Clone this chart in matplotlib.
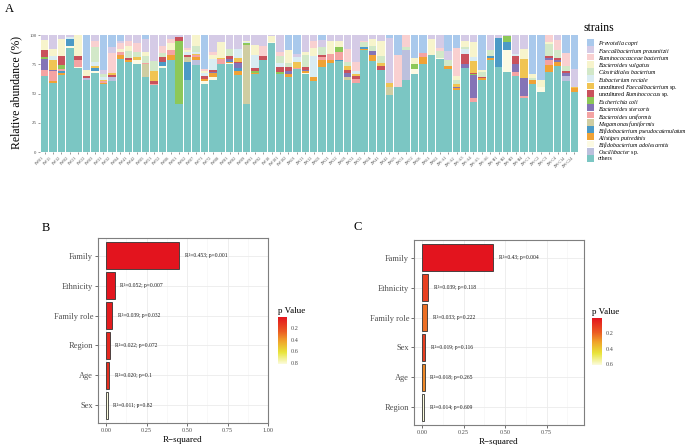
import numpy as np
import pandas as pd
import matplotlib
matplotlib.use('Agg')
import matplotlib.pyplot as plt
from matplotlib.patches import Rectangle
from matplotlib.colors import LinearSegmentedColormap, Normalize
from matplotlib.colorbar import ColorbarBase

plt.rcParams['font.family'] = ['Liberation Serif', 'DejaVu Serif']
plt.rcParams['mathtext.fontset'] = 'custom'
plt.rcParams['mathtext.rm'] = 'Liberation Serif'
plt.rcParams['mathtext.it'] = 'Liberation Serif:italic'

# ---- panel A: strain composition per sample ----
SAMPLES = ["FW01", "FW11", "FW12", "FW02", "FW21", "FW22", "FW03", "FW31", "FW32", "FW04",
           "FW41", "FW42", "FW05", "FW51", "FW52", "FW06", "FW61", "FW62", "FW07", "FW71",
           "FW72", "FW08", "FW81", "FW82", "FW09", "FW91", "FW92", "FW10", "FW101", "FW102",
           "ZW01", "ZW11", "ZW12", "ZW02", "ZW21", "ZW22", "ZW03", "ZW31", "ZW32", "ZW04",
           "ZW41", "ZW42", "ZW05", "ZW51", "ZW52", "ZW06", "ZW61", "ZW62", "ZW-A1", "ZW-A2",
           "ZW-A3", "ZW-A4", "ZW-A5", "ZW-A6", "ZW-B1", "ZW-B2", "ZW-B3", "ZW-B4", "ZW-C1", "ZW-C2",
           "ZW-C3", "ZW-C4", "ZW-C14", "ZW-C24"]

# legend order (top of stack first)
STRAINS = ["Prevotella copri", "Faecalibacterium prausnitzii", "Ruminococcaceae bacterium",
           "Bacteroides vulgatus", "Clostridiales bacterium", "Eubacterium rectale",
           "uncultured Faecalibacterium sp.", "uncultured Ruminococcus sp.", "Escherichia coli",
           "Bacteroides stercoris", "Bacteroides uniformis", "Megamonas funiformis",
           "Bifidobacterium pseudocatenulatum", "Alistipes putredinis",
           "Bifidobacterium adolescentis", "Oscillibacter sp.", "others"]
LABELS = [r"$\mathit{Prevotella\ copri}$", r"$\mathit{Faecalibacterium\ prausnitzii}$",
          r"$\mathit{Ruminococcaceae\ bacterium}$", r"$\mathit{Bacteroides\ vulgatus}$",
          r"$\mathit{Clostridiales\ bacterium}$", r"$\mathit{Eubacterium\ rectale}$",
          r"uncultured $\mathit{Faecalibacterium}$ sp.", r"uncultured $\mathit{Ruminococcus}$ sp.",
          r"$\mathit{Escherichia\ coli}$", r"$\mathit{Bacteroides\ stercoris}$",
          r"$\mathit{Bacteroides\ uniformis}$", r"$\mathit{Megamonas\ funiformis}$",
          r"$\mathit{Bifidobacterium\ pseudocatenulatum}$", r"$\mathit{Alistipes\ putredinis}$",
          r"$\mathit{Bifidobacterium\ adolescentis}$", r"$\mathit{Oscillibacter}$ sp.", "others"]
COLORS = ['#A9C9EC', '#D5CBE6', '#F9D0D0', '#F7F4CC', '#D2E8C8', '#D9ECF2', '#F0C453',
          '#C9525C', '#8DC858', '#8474B6', '#F4A3A3', '#CFCDA2', '#4C9AC6', '#F0A235',
          '#FCFAE3', '#BCC0DD', '#7BC6C3']

PC = [0, 0, 0, 0, 0, 30, 0, 30, 10, 5,
      0, 0, 3, 0, 0, 0, 0, 0, 0, 28.5,
      0, 0, 0, 0, 0, 0, 0, 0, 0, 12.5,
      16, 0, 0, 4, 0, 0, 0, 0, 0, 0,
      0, 2, 16.5, 0, 19.5, 15.5, 0, 0, 13.5, 11,
      0, 0, 29.5, 0, 0, 0, 0, 0, 33.5, 38.5,
      0, 0, 15, 28.5]
FP = [4, 12, 3.5, 1.5, 0, 0, 5, 3, 5, 2,
      4.5, 6.5, 11, 22, 9, 3.5, 1.5, 10.5, 0, 0,
      14.5, 5.5, 11.5, 11.5, 5, 8, 9.5, 1, 14.5, 0,
      3, 14, 4.5, 6, 5, 4.5, 11.5, 22.5, 4.5, 3,
      5, 39, 0, 0, 0, 0, 3, 10.5, 8, 0,
      5, 6, 0, 12.5, 2.5, 1, 16, 11.5, 0, 0,
      0, 4, 0, 15.5]
RB = [0, 0, 0, 0, 0, 0, 5, 0, 17, 5,
      5, 7.5, 0, 0, 6, 3, 0, 2, 0, 2,
      2, 0, 0, 0, 0, 0, 8.5, 0, 3, 0,
      0, 0, 6, 0, 0, 0, 11, 8, 1.5, 0,
      0, 0, 28, 10, 0, 0, 0, 3, 0, 24,
      0, 0, 0, 0, 0, 0, 0, 0, 0, 0,
      5.5, 8.5, 11, 0]
BV = [9, 6, 14, 0, 17.5, 5, 0, 0, 0, 2,
      4, 0, 4, 0, 0, 6, 0, 1.5, 9, 2,
      4, 14, 0, 0, 1, 8.5, 0, 5, 0, 11,
      0, 3, 7, 0, 11, 5.5, 0, 0, 0, 6,
      13, 0, 0, 0, 5, 0, 13.5, 0, 0, 3,
      5, 13, 2, 0, 0, 0, 0, 9, 3, 6,
      2, 0, 0, 0]
CB = [0, 0, 0, 0, 0, 0, 13, 3, 0, 0,
      6, 4.5, 6, 9, 4, 0, 0, 0, 5, 0,
      0, 0, 6, 0, 0, 0, 0, 0, 6, 4,
      0, 10, 0, 7, 0, 0, 4, 0, 4, 4.5,
      6, 0, 0, 3, 0, 0, 0, 6, 5, 4,
      2, 0, 4, 5, 0, 0, 0, 0, 2, 0,
      10, 7, 4.5, 0]
ER = [0, 3, 0, 2, 0, 0, 3, 2, 0, 0,
      0, 0, 0, 0, 0, 0, 0, 3, 2, 2,
      9, 0, 0, 8, 1, 11.5, 0, 0, 4, 0,
      4, 0, 18.5, 0, 0, 0, 0, 3, 0, 0,
      0, 0, 0, 0, 0, 0, 0, 0, 0, 0,
      4, 3, 0, 0, 0, 0, 2, 0, 0, 0,
      0, 0, 0, 0]
UF = [0, 8.5, 0, 0, 0, 0, 2, 1.5, 2, 0,
      0, 3, 0, 8.5, 0, 0, 0, 0, 1, 0,
      0, 1, 0, 3.5, 0, 0, 0, 0, 0, 0,
      5, 0, 0, 0, 0, 0, 3, 1, 0, 0,
      2, 3, 0, 0, 0, 0, 0, 0, 0, 2,
      0, 10, 0, 0, 0, 0, 0, 16, 0, 0,
      0, 0, 0, 1.5]
UR = [6, 0, 8, 0, 4, 2, 0, 0, 2, 0,
      2, 0, 0, 2, 4, 0, 3, 1.5, 0, 3,
      2, 0, 3, 1, 0, 3, 3.5, 0, 4, 3,
      0, 3, 0, 1.5, 0, 0, 3, 3, 0, 0,
      4, 0, 0, 0, 0, 0, 0, 0, 0, 0,
      9, 1, 1.5, 0, 0, 0, 6.5, 0, 0, 0,
      2, 2, 2, 0]
EC = [1, 0, 3.5, 0, 0, 0, 0, 0, 0, 0,
      0, 0, 0, 0, 0, 0, 54, 0, 0, 0,
      0, 0, 0, 0, 1.5, 1, 0, 0, 2, 0,
      0, 0, 0, 0, 0, 4, 0, 0, 0, 0,
      0, 0, 0, 0, 4.5, 0, 0, 0, 0, 0,
      0, 1, 0, 0, 0, 5, 0, 0, 0, 0,
      0, 0, 0, 0]
BS = [10, 1.5, 0, 0, 0, 0, 0, 0, 0, 0,
      0, 0, 0, 0, 0, 0, 0, 0, 0, 0,
      1, 0, 1.5, 4, 0, 0, 0, 0, 0, 3,
      0, 1, 0, 0, 0, 0, 3, 0, 0, 3,
      0, 0, 0, 0, 0, 0, 0, 0, 0, 1,
      3, 20, 0, 0, 0, 0, 7, 15.5, 0, 0,
      2, 1, 2, 0]
BU = [5, 8, 2, 0, 5.5, 0, 0, 1, 0, 3,
      0, 0, 0.5, 1, 0, 4.5, 0, 0, 1.5, 0,
      0, 4.5, 0, 0, 0, 0, 0, 0, 0, 0,
      1, 0, 0, 3, 5.5, 7, 0, 3, 0, 0,
      0, 0, 0, 0, 0, 3, 0, 0, 0, 0,
      0, 3.5, 0, 0, 0, 0, 3.5, 2, 0, 0,
      4, 0, 0, 0]
MF = [0, 0, 0, 0, 0, 0, 0, 0, 0, 0,
      0, 0, 11.5, 0, 0, 0, 0, 4, 0, 0,
      0, 0, 0, 0, 50, 0, 0, 0, 0, 0,
      0, 0, 0, 0, 0, 0, 3, 0, 0, 0,
      0, 7.5, 0, 0, 0, 0, 0, 0, 0, 0,
      0, 0, 0, 0, 0, 0, 0, 0, 0, 0,
      0, 0, 0, 0]
BP = [0, 0, 1, 6, 0, 0, 2.5, 0, 0, 0,
      0, 0, 0, 0, 3, 0, 0, 15.5, 0, 0,
      0, 0, 1, 3, 0, 0, 0, 0, 0, 0,
      0, 0, 0, 0, 0, 1, 0, 0, 1.5, 0,
      0, 0, 0, 0, 0, 0, 0, 0, 0, 0,
      0, 0, 0, 2, 24.5, 7, 0, 0, 0, 0,
      0, 0, 0, 0]
AP = [0, 2, 2, 0, 0, 0, 0, 1, 0, 3,
      1, 0, 0, 0, 0, 4, 0, 0, 3, 2,
      3, 0, 1, 3, 0, 1, 0, 0, 0, 2,
      0, 1.5, 3, 5.5, 2, 0, 0, 0, 1.5, 5.5,
      0, 0, 0, 0, 0, 6.5, 0, 0, 2, 2,
      0, 0, 1.5, 2, 0, 0, 0, 0, 3.5, 0,
      6, 3.5, 0, 3]
BA = [0, 0, 0, 1.5, 1, 0, 2, 0, 0, 0,
      0, 3.5, 0, 0, 2, 0, 0, 0, 0, 2,
      3, 0, 1, 0, 0, 0, 0, 1, 0, 0,
      0, 1, 0, 0, 0, 0, 0, 0, 0, 0,
      0, 0, 0, 0, 4, 0, 0, 1, 0, 0,
      0, 0, 0, 0, 0, 18.5, 0, 0, 0, 4,
      0, 0, 0, 0]
OS = [0, 0, 0, 0, 0, 1, 0, 0, 3.5, 0,
      0, 0, 0, 0, 0, 0, 0, 0, 4, 0,
      0, 0, 0, 0, 0, 0, 0, 0, 0, 0,
      0, 0, 0, 0, 0, 0, 0, 0, 0, 0,
      0, 0, 0, 25, 0, 0, 0, 0, 0, 0,
      0, 0, 0, 0, 0, 0, 0, 0, 0, 0,
      0, 0, 5, 0]
OT = [65, 59, 66, 89, 72, 62, 67.5, 58.5, 60.5, 80,
      77.5, 75, 64, 57.5, 72, 79, 41.5, 62, 74.5, 58.5,
      61.5, 75, 75, 66, 41.5, 67, 78.5, 93, 66.5, 64.5,
      71, 66.5, 61, 73, 76.5, 78, 61.5, 59.5, 87, 78,
      70, 48.5, 55.5, 62, 67, 75, 83.5, 79.5, 71.5, 53,
      72, 42.5, 61.5, 78.5, 73, 68.5, 65, 46, 58, 51.5,
      68.5, 74, 60.5, 51.5]

# ---- panels B and C: PERMANOVA-like results ----
B_FACTORS = ["Family", "Ethnicity", "Family role", "Region", "Age", "Sex"]
B_R2 = [0.453, 0.052, 0.039, 0.022, 0.020, 0.011]
B_P = [0.001, 0.007, 0.032, 0.072, 0.1, 0.82]
B_TEXT = ["0.453", "0.052", "0.039", "0.022", "0.020", "0.011"]
B_PTEXT = ["0.001", "0.007", "0.032", "0.072", "0.1", "0.82"]

C_FACTORS = ["Family", "Ethnicity", "Family role", "Sex", "Age", "Region"]
C_R2 = [0.43, 0.039, 0.033, 0.019, 0.018, 0.014]
C_P = [0.004, 0.118, 0.222, 0.116, 0.265, 0.609]
C_TEXT = ["0.43", "0.039", "0.033", "0.019", "0.018", "0.014"]
C_PTEXT = ["0.004", "0.118", "0.222", "0.116", "0.265", "0.609"]

W, H = 693, 445
fig = plt.figure(figsize=(W / 100, H / 100), dpi=100)


def box(x0, y0, x1, y1):
    # pixel box -> figure fraction rect
    return [x0 / W, 1 - y1 / H, (x1 - x0) / W, (y1 - y0) / H]


# ---------------- A ----------------
series = [PC, FP, RB, BV, CB, ER, UF, UR, EC, BS, BU, MF, BP, AP, BA, OS, OT]
df = pd.DataFrame(dict(zip(STRAINS, series)), index=SAMPLES)
df = df.div(df.sum(axis=1), axis=0) * 100

axA = fig.add_axes(box(40, 33.5, 579, 152))
x = np.arange(len(SAMPLES))
bottom = np.zeros(len(SAMPLES))
for name, col in zip(STRAINS[::-1], COLORS[::-1]):
    vals = df[name].values
    axA.bar(x, vals, bottom=bottom, width=0.9, color=col, edgecolor='none')
    bottom += vals
axA.set_xlim(-0.55, len(SAMPLES) - 0.45)
axA.set_ylim(0, 101.5)
for s in axA.spines.values():
    s.set_visible(False)
axA.set_yticks([0, 25, 50, 75, 100])
axA.set_yticklabels(['0', '25', '50', '75', '100'], fontsize=3.5, color='#4D4D4D')
axA.set_xticks(x)
axA.set_xticklabels(SAMPLES, rotation=45, ha='right', fontsize=3, color='#4D4D4D')
axA.tick_params(length=1.5, width=0.4, color='#4D4D4D', pad=1)
axA.set_ylabel('Relative abundance (%)', fontsize=8.5, labelpad=5)
fig.text(5 / W, 1 - 12 / H, 'A', fontsize=9)

# legend drawn by hand so the rows keep the tight ggplot spacing
fig.text(583 / W, 1 - 28 / H, 'strains', fontsize=8.5, va='center', ha='left')
row_h = 7.25
for i, (lab, col) in enumerate(zip(LABELS, COLORS)):
    yc = 42.5 + i * row_h
    fig.patches.append(Rectangle((587 / W, 1 - (yc + 3.3) / H), 7 / W, 6.6 / H,
                                 transform=fig.transFigure, facecolor=col,
                                 edgecolor='none'))
    fig.text(598 / W, 1 - yc / H, lab, fontsize=4.3, va='center_baseline', ha='left')

# ---------------- B / C ----------------
cmap = LinearSegmentedColormap.from_list(
    'pval', [(0, '#E3141E'), (0.3, '#EB5A22'), (0.5, '#F0A02A'),
             (0.75, '#E8E43A'), (1, '#FBFBDC')])


def r2_panel(rect, cbrect, letter, letter_xy, factors, r2, pv, r2txt, ptxt, xlim, xticks):
    ax = fig.add_axes(rect)
    norm = Normalize(min(pv), max(pv))
    y = np.arange(len(factors))[::-1]
    ax.barh(y, r2, height=0.9, color=cmap(norm(pv)), edgecolor='#333333',
            linewidth=0.6, zorder=3)
    for yi, v, t, p in zip(y, r2, r2txt, ptxt):
        ax.text(v + 0.033, yi, f'R\u00b2={t}; p={p}', fontsize=4, va='center',
                ha='left', color='#1A1A1A', zorder=4)
    ax.set_xlim(*xlim)
    ax.set_ylim(-0.6, len(factors) - 0.4)
    ax.set_yticks(y)
    ax.set_yticklabels(factors, fontsize=6, color='#4D4D4D')
    ax.set_xticks(xticks)
    ax.set_xticklabels([f'{t:.2f}' for t in xticks], fontsize=4.5, color='#4D4D4D')
    ax.set_xticks(np.arange(0.125, xlim[1], 0.25), minor=True)
    ax.grid(True, which='major', color='#EBEBEB', linewidth=0.6, zorder=0)
    ax.grid(True, which='minor', axis='x', color='#F3F3F3', linewidth=0.4, zorder=0)
    ax.tick_params(which='major', length=2, width=0.5, color='#333333', pad=1.5)
    ax.tick_params(which='minor', length=0)
    for s in ax.spines.values():
        s.set_color('#7F7F7F')
        s.set_linewidth(0.8)
    ax.set_xlabel('R\u2212squared', fontsize=6.5, labelpad=2)
    fig.text(letter_xy[0] / W, 1 - letter_xy[1] / H, letter, fontsize=9, va='center')

    cax = fig.add_axes(cbrect)
    cb = ColorbarBase(cax, cmap=cmap, norm=norm, orientation='vertical')
    cb.outline.set_visible(False)
    cax.invert_yaxis()
    ticks = [t for t in [0.2, 0.4, 0.6, 0.8] if t <= max(pv)]
    cb.set_ticks(ticks)
    cb.set_ticklabels([f'{t:.1f}' for t in ticks])
    cax.tick_params(labelsize=4.5, labelcolor='#4D4D4D', length=1.5, width=0.4,
                    color='white', pad=1.5)
    cax.set_title('p Value', fontsize=6.5, loc='left', pad=3)
    return ax


r2_panel(box(98, 238, 268, 423), box(278, 317, 287, 364), 'B', (42, 228),
         B_FACTORS, B_R2, B_P, B_TEXT, B_PTEXT, (-0.05, 1.0), [0, 0.25, 0.5, 0.75, 1.0])
r2_panel(box(414, 240, 584, 425), box(592, 318, 602, 365), 'C', (353, 227),
         C_FACTORS, C_R2, C_P, C_TEXT, C_PTEXT, (-0.048, 0.975), [0, 0.25, 0.5, 0.75])

fig.savefig('out.png', dpi=100)
